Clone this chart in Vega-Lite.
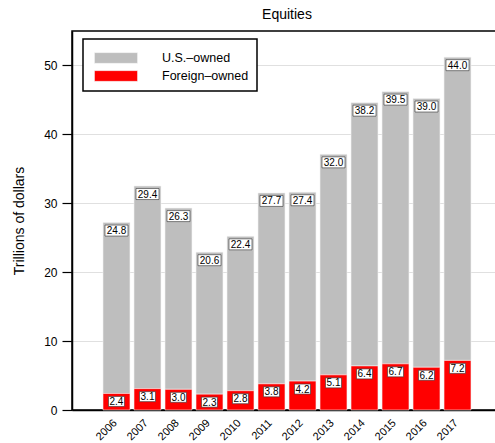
{
  "$schema": "https://vega.github.io/schema/vega-lite/v6.json",
  "autosize": "none",
  "padding": {"left": 72, "top": 31, "right": 0, "bottom": 33},
  "width": 430,
  "height": 379,
  "title": {"text": "Equities", "fontSize": 14, "fontWeight": "normal", "font": "Liberation Sans", "color": "black", "offset": 9},
  "config": {
    "font": "Liberation Sans",
    "view": {"stroke": "black", "strokeWidth": 1.5},
    "axis": {"labelColor": "black", "titleColor": "black", "labelFont": "Liberation Sans", "titleFont": "Liberation Sans"}
  },
  "data": {
    "values": [
      {"year": "2006", "group": "U.S.–owned", "value": 24.8},
      {"year": "2007", "group": "U.S.–owned", "value": 29.4},
      {"year": "2008", "group": "U.S.–owned", "value": 26.3},
      {"year": "2009", "group": "U.S.–owned", "value": 20.6},
      {"year": "2010", "group": "U.S.–owned", "value": 22.4},
      {"year": "2011", "group": "U.S.–owned", "value": 27.7},
      {"year": "2012", "group": "U.S.–owned", "value": 27.4},
      {"year": "2013", "group": "U.S.–owned", "value": 32.0},
      {"year": "2014", "group": "U.S.–owned", "value": 38.2},
      {"year": "2015", "group": "U.S.–owned", "value": 39.5},
      {"year": "2016", "group": "U.S.–owned", "value": 39.0},
      {"year": "2017", "group": "U.S.–owned", "value": 44.0},
      {"year": "2006", "group": "Foreign–owned", "value": 2.4},
      {"year": "2007", "group": "Foreign–owned", "value": 3.1},
      {"year": "2008", "group": "Foreign–owned", "value": 3.0},
      {"year": "2009", "group": "Foreign–owned", "value": 2.3},
      {"year": "2010", "group": "Foreign–owned", "value": 2.8},
      {"year": "2011", "group": "Foreign–owned", "value": 3.8},
      {"year": "2012", "group": "Foreign–owned", "value": 4.2},
      {"year": "2013", "group": "Foreign–owned", "value": 5.1},
      {"year": "2014", "group": "Foreign–owned", "value": 6.4},
      {"year": "2015", "group": "Foreign–owned", "value": 6.7},
      {"year": "2016", "group": "Foreign–owned", "value": 6.2},
      {"year": "2017", "group": "Foreign–owned", "value": 7.2}
    ]
  },
  "transform": [
    {"stack": "value", "groupby": ["year"], "sort": [{"field": "group", "order": "ascending"}], "as": ["v0", "v1"]}
  ],
  "encoding": {
    "x": {
      "field": "year", "type": "ordinal",
      "scale": {"paddingInner": 0.13, "paddingOuter": 1.0},
      "axis": {"title": null, "ticks": false, "domainColor": "black", "domainWidth": 1.5, "labelAngle": -45, "labelAlign": "right", "labelBaseline": "middle", "labelFontSize": 11, "labelPadding": 11, "labelOffset": -1}
    }
  },
  "layer": [
    {
      "mark": {"type": "bar", "stroke": "#f2f2f2", "strokeWidth": 0.6},
      "encoding": {
        "y": {
          "field": "v1", "type": "quantitative",
          "scale": {"domain": [0, 55], "nice": false, "zero": true},
          "axis": {
            "title": "Trillions of dollars", "titleFontSize": 14, "titleFontWeight": "normal", "titlePadding": 17,
            "values": [0, 10, 20, 30, 40, 50], "labelFontSize": 12, "labelPadding": 5,
            "tickSize": 10, "tickColor": "black", "tickWidth": 1.2,
            "domainColor": "black", "domainWidth": 1.5,
            "grid": true, "gridColor": "#e0e0e0", "gridWidth": 1
          }
        },
        "y2": {"field": "v0"},
        "fill": {
          "field": "group", "type": "nominal",
          "scale": {"domain": ["U.S.–owned", "Foreign–owned"], "range": ["#bebebe", "#ff0000"]},
          "legend": {
            "title": null, "orient": "none", "legendX": 11, "legendY": 8,
            "direction": "vertical",
            "strokeColor": "black", "fillColor": "white",
            "padding": 8,
            "symbolType": "M-2,-0.5H2V0.5H-2Z", "symbolSize": 462,
            "symbolStrokeColor": "#f4f4f4", "symbolStrokeWidth": 0.5,
            "labelFontSize": 12.5, "labelColor": "black", "labelOffset": 35,
            "rowPadding": -5, "symbolOffset": 14,
            "encode": {"legend": {"update": {"strokeWidth": {"value": 1.5}}}}
          }
        }
      }
    },
    {
      "transform": [{"filter": "datum.group == 'U.S.–owned'"}],
      "mark": {"type": "point", "shape": "M-11.5,-5.5H11.5V5.5H-11.5Z", "filled": true, "fill": "white", "stroke": "#333333", "strokeWidth": 0.6, "opacity": 1, "size": 4, "yOffset": 8},
      "encoding": {
        "y": {"field": "v1", "type": "quantitative"}
      }
    },
    {
      "transform": [{"filter": "datum.group == 'Foreign–owned'"}],
      "mark": {"type": "point", "shape": "M-8,-5H8V5H-8Z", "filled": true, "fill": "white", "stroke": "#333333", "strokeWidth": 0.6, "opacity": 1, "size": 4, "yOffset": 8},
      "encoding": {
        "y": {"field": "v1", "type": "quantitative"}
      }
    },
    {
      "mark": {"type": "text", "fontSize": 10, "color": "black", "baseline": "middle", "align": "center", "dy": 8.5},
      "encoding": {
        "y": {"field": "v1", "type": "quantitative"},
        "text": {"field": "value", "type": "quantitative", "format": ".1f"}
      }
    }
  ]
}
